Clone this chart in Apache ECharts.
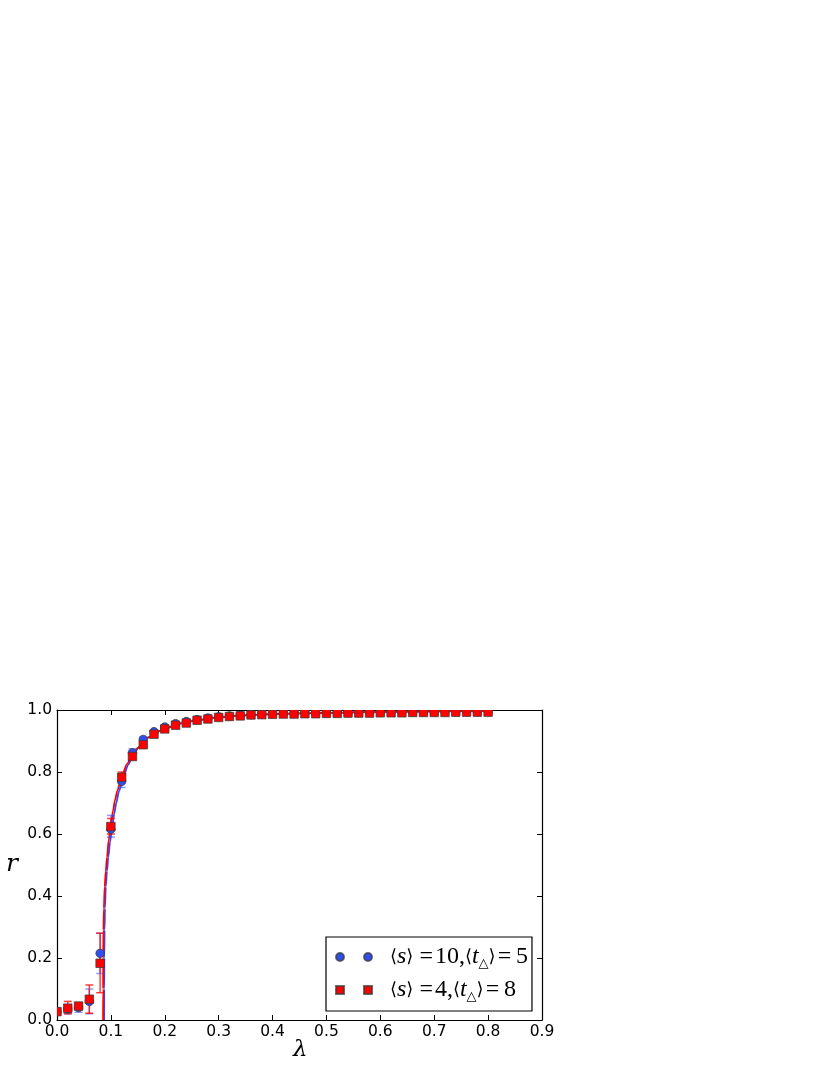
<!DOCTYPE html>
<html>
<head>
<meta charset="utf-8">
<script src="https://cdn.jsdelivr.net/npm/echarts@6/dist/echarts.min.js"></script>
<style>
html,body{margin:0;padding:0;background:#fff;}
#chart{width:830px;height:1075px;}
</style>
</head>
<body>
<div id="chart"></div>
<script>
// ---- data ----
const lambda = [0.00,0.02,0.04,0.06,0.08,0.10,0.12,0.14,0.16,0.18,0.20,0.22,0.24,0.26,0.28,0.30,0.32,0.34,0.36,0.38,0.40,
                0.42,0.44,0.46,0.48,0.50,0.52,0.54,0.56,0.58,0.60,0.62,0.64,0.66,0.68,0.70,0.72,0.74,0.76,0.78,0.80];

// <s>=10, <t>=5  (blue circles)
const rBlue = [0.027,0.035,0.040,0.060,0.215,0.615,0.770,0.862,0.905,0.930,0.945,0.956,0.963,0.969,0.974,0.978,0.981,0.983,0.985,0.987,0.988,
               0.989,0.989,0.990,0.990,0.991,0.991,0.991,0.992,0.992,0.992,0.993,0.993,0.993,0.993,0.994,0.994,0.994,0.994,0.994,0.995];
const blueLow  = [0.017,0.020,0.025,0.020,0.150,0.590,0.750,0.850,0.897,0.925,0.941,0.953,0.960,0.967,0.972,0.976,0.979,0.981,0.983,0.985,0.986,
                  0.987,0.987,0.988,0.988,0.989,0.989,0.989,0.990,0.990,0.990,0.991,0.991,0.991,0.991,0.992,0.992,0.992,0.992,0.992,0.993];
const blueHigh = [0.037,0.050,0.050,0.100,0.280,0.660,0.790,0.875,0.913,0.935,0.949,0.959,0.966,0.971,0.976,0.980,0.983,0.985,0.987,0.989,0.990,
                  0.991,0.991,0.992,0.992,0.993,0.993,0.993,0.994,0.994,0.994,0.995,0.995,0.995,0.995,0.996,0.996,0.996,0.996,0.996,0.997];

// <s>=4, <t>=8  (red squares)
const rRed = [0.027,0.038,0.045,0.067,0.183,0.624,0.783,0.850,0.888,0.922,0.939,0.951,0.958,0.967,0.971,0.976,0.979,0.981,0.984,0.985,0.986,
              0.987,0.987,0.988,0.988,0.989,0.989,0.990,0.990,0.990,0.991,0.991,0.991,0.992,0.992,0.992,0.992,0.993,0.993,0.993,0.993];
const redLow  = [0.020,0.020,0.035,0.022,0.088,0.600,0.765,0.840,0.880,0.916,0.934,0.947,0.955,0.964,0.968,0.973,0.977,0.979,0.982,0.983,0.984,
                 0.985,0.985,0.986,0.986,0.987,0.987,0.988,0.988,0.988,0.989,0.989,0.989,0.990,0.990,0.990,0.990,0.991,0.991,0.991,0.991];
const redHigh = [0.035,0.060,0.055,0.113,0.280,0.650,0.800,0.860,0.896,0.928,0.944,0.955,0.961,0.970,0.974,0.979,0.981,0.983,0.986,0.987,0.988,
                 0.989,0.989,0.990,0.990,0.991,0.991,0.992,0.992,0.992,0.993,0.993,0.993,0.994,0.994,0.994,0.994,0.995,0.995,0.995,0.995];

// theory curves
const curveBlueX = [0.0875,0.0876,0.0878,0.0882,0.0890,0.0905,0.0927,0.0952,0.0985,0.1020,0.1060,0.1100,0.1150,0.1230,0.1320,0.1420,0.1520,0.1700,0.2000,0.2300,0.2600,0.3000,0.3500,0.4000,0.5000,0.6000,0.7000,0.8000];
const curveBlueY = [0.000,0.100,0.200,0.290,0.360,0.430,0.480,0.525,0.575,0.618,0.664,0.700,0.738,0.783,0.823,0.856,0.880,0.912,0.941,0.957,0.967,0.976,0.983,0.987,0.991,0.994,0.996,0.997];
const curveRedX  = [0.0855,0.0856,0.0858,0.0862,0.0870,0.0885,0.0905,0.0928,0.0960,0.1000,0.1040,0.1075,0.1120,0.1200,0.1300,0.1400,0.1500,0.1700,0.2000,0.2300,0.2600,0.3000,0.3500,0.4000,0.5000,0.6000,0.7000,0.8000];
const curveRedY  = [0.000,0.100,0.200,0.290,0.360,0.430,0.480,0.525,0.580,0.630,0.675,0.708,0.740,0.785,0.826,0.856,0.878,0.912,0.940,0.957,0.967,0.976,0.983,0.987,0.991,0.994,0.996,0.997];

const xTicks = [0.0,0.1,0.2,0.3,0.4,0.5,0.6,0.7,0.8,0.9];
const yTicks = [0.0,0.2,0.4,0.6,0.8,1.0];

const nameBlue = 'blue';
const nameRed = 'red';

// ---- build ----
const BLUE = '#2f4ff0';
const BLUE_LINE = '#3047ff';
const RED = '#ff0000';
const EDGE = 'rgba(60,60,60,0.75)';

function zip(a, b) { return a.map((v, i) => [v, b[i]]); }
function zip3(a, b, c) { return a.map((v, i) => [v, b[i], c[i]]); }

function errRender(color) {
  return function (params, api) {
    const x = api.value(0), lo = api.value(1), hi = api.value(2);
    const p1 = api.coord([x, lo]);
    const p2 = api.coord([x, hi]);
    const cap = 4;
    const st = { stroke: color, lineWidth: 1.5 };
    return {
      type: 'group',
      children: [
        { type: 'line', shape: { x1: p1[0], y1: p1[1], x2: p2[0], y2: p2[1] }, style: st },
        { type: 'line', shape: { x1: p1[0] - cap, y1: p1[1], x2: p1[0] + cap, y2: p1[1] }, style: st },
        { type: 'line', shape: { x1: p2[0] - cap, y1: p2[1], x2: p2[0] + cap, y2: p2[1] }, style: st }
      ]
    };
  };
}

function markerRender(kind, color) {
  return function (params, api) {
    const p = api.coord([api.value(0), api.value(1)]);
    const s = 8.5;
    const style = { fill: color, stroke: EDGE, lineWidth: 1 };
    if (kind === 'circle') {
      return { type: 'circle', shape: { cx: p[0], cy: p[1], r: s / 2 }, style: style };
    }
    return { type: 'rect', shape: { x: p[0] - s / 2, y: p[1] - s / 2, width: s, height: s }, style: style };
  };
}

const axisCommon = {
  type: 'value',
  axisLine: { show: true, onZero: false, lineStyle: { color: '#000', width: 1.2 } },
  axisTick: { show: true, inside: true, length: 5, lineStyle: { color: '#000', width: 1 } },
  splitLine: { show: false }
};

const labelFont = { color: '#000', fontFamily: 'DejaVu Sans', fontSize: 15.5 };

const option = {
  backgroundColor: '#fff',
  animation: false,
  grid: { left: 57, right: 288, top: 710, bottom: 55, containLabel: false },
  xAxis: [
    Object.assign({}, axisCommon, {
      position: 'bottom', min: xTicks[0], max: xTicks[xTicks.length - 1], interval: 0.1,
      axisLabel: Object.assign({ margin: 4, formatter: v => v.toFixed(1) }, labelFont)
    }),
    Object.assign({}, axisCommon, {
      position: 'top', min: xTicks[0], max: xTicks[xTicks.length - 1], interval: 0.1,
      axisLabel: { show: false }
    })
  ],
  yAxis: [
    Object.assign({}, axisCommon, {
      position: 'left', min: yTicks[0], max: yTicks[yTicks.length - 1], interval: 0.2,
      axisLabel: Object.assign({ margin: 5, formatter: v => v.toFixed(1) }, labelFont)
    }),
    Object.assign({}, axisCommon, {
      position: 'right', min: yTicks[0], max: yTicks[yTicks.length - 1], interval: 0.2,
      axisLabel: { show: false }
    })
  ],
  legend: {
    orient: 'vertical',
    left: 326, top: 937,
    padding: [8, 4, 8, 9],
    itemGap: 8,
    itemWidth: 36, itemHeight: 8,
    borderColor: '#000', borderWidth: 1.2,
    backgroundColor: '#fff',
    selectedMode: false,
    data: [
      { name: nameBlue, icon: 'path://M0,4A4,4,0,1,1,8,4A4,4,0,1,1,0,4Z M28,4A4,4,0,1,1,36,4A4,4,0,1,1,28,4Z' },
      { name: nameRed, icon: 'path://M0,0h8v8h-8Z M28,0h8v8h-8Z' }
    ],
    formatter: function (name) {
      if (name === nameBlue) {
        return '{g| }{b|⟨}{i|s}{b|⟩}{n| =\u200a10,}{b|⟨}{i|t}{sub|△}{b|⟩}{n|\u200a=\u20095}';
      }
      return '{g| }{b|⟨}{i|s}{b|⟩}{n| =\u200a4,}{b|⟨}{i|t}{sub|△}{b|⟩}{n|\u200a=\u20098}';
    },
    textStyle: {
      color: '#000',
      rich: {
        g: { width: 13, fontSize: 10, lineHeight: 30 },
        n: { fontFamily: 'Liberation Serif', fontSize: 24, lineHeight: 30, color: '#000' },
        i: { fontFamily: 'Liberation Serif', fontStyle: 'italic', fontSize: 24, lineHeight: 30, color: '#000' },
        b: { fontFamily: 'DejaVu Sans', fontSize: 18, lineHeight: 30, color: '#000' },
        sub: { fontFamily: 'DejaVu Sans', fontSize: 13, padding: [13, 0, 0, 0], color: '#000' }
      }
    }
  },
  graphic: [
    { type: 'text', left: 293, top: 1039, style: { text: 'λ', font: 'italic 23px "DejaVu Serif"', fill: '#000' } },
    { type: 'text', left: 6, top: 852, style: { text: 'r', font: 'italic 25px "DejaVu Serif"', fill: '#000' } }
  ],
  series: [
    {
      name: 'curveBlue', type: 'line', data: zip(curveBlueX, curveBlueY), showSymbol: false,
      smooth: 0.25, smoothMonotone: 'x', clip: true, z: 2,
      lineStyle: { color: BLUE_LINE, width: 1.8 }, itemStyle: { color: BLUE_LINE }
    },
    {
      name: 'curveRed', type: 'line', data: zip(curveRedX, curveRedY), showSymbol: false,
      smooth: 0.25, smoothMonotone: 'x', clip: true, z: 2,
      lineStyle: { color: RED, width: 1.8 }, itemStyle: { color: RED }
    },
    {
      name: 'errBlue', type: 'custom', data: zip3(lambda, blueLow, blueHigh), clip: true, z: 3,
      renderItem: errRender('rgba(50,80,255,0.55)')
    },
    {
      name: 'errRed', type: 'custom', data: zip3(lambda, redLow, redHigh), clip: true, z: 3,
      renderItem: errRender('rgba(255,0,0,0.75)')
    },
    {
      name: nameBlue, type: 'custom', data: zip(lambda, rBlue), clip: true, z: 4,
      itemStyle: { color: BLUE, borderColor: EDGE, borderWidth: 1 },
      renderItem: markerRender('circle', BLUE)
    },
    {
      name: nameRed, type: 'custom', data: zip(lambda, rRed), clip: true, z: 5,
      itemStyle: { color: RED, borderColor: EDGE, borderWidth: 1 },
      renderItem: markerRender('rect', RED)
    }
  ]
};

const chart = echarts.init(document.getElementById('chart'), null, { renderer: 'canvas' });
chart.setOption(option);
</script>
</body>
</html>
